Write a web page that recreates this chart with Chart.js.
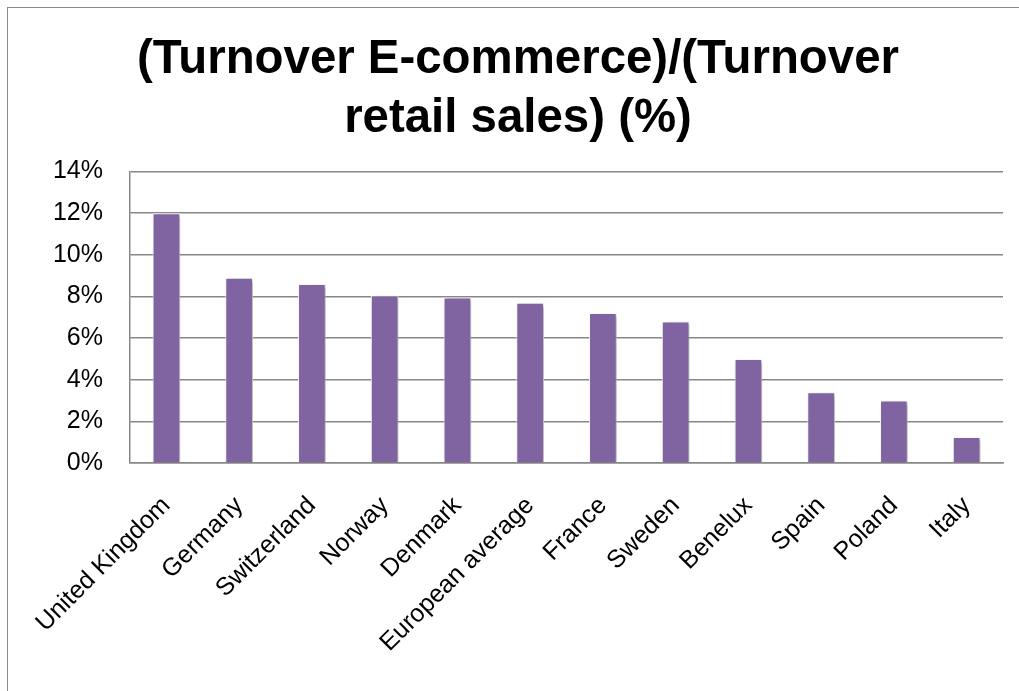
<!DOCTYPE html>
<html>
<head>
<meta charset="utf-8">
<title>E-commerce share of retail turnover</title>
<script src="https://cdn.jsdelivr.net/npm/chart.js@4/dist/chart.umd.min.js"></script>
<style>
    html, body { margin: 0; padding: 0; background: #fff; overflow: hidden; }
    #frame {
        position: absolute; left: 7px; top: 7px; width: 1040px; height: 720px;
        border-left: 1px solid #8c8c8c; border-top: 1px solid #8c8c8c;
    }
    #chart { position: absolute; left: 8px; top: 8px; }
</style>
</head>
<body>
<div id="frame"></div>
<canvas id="chart" width="1020" height="690"></canvas>
<script>
// Countries, in the order they are plotted
var countries = ['United Kingdom', 'Germany', 'Switzerland', 'Norway', 'Denmark',
    'European average', 'France', 'Sweden', 'Benelux', 'Spain', 'Poland', 'Italy'];

// E-commerce turnover as a share of retail turnover (%)
var shares = [12.0, 8.9, 8.6, 8.05, 7.95, 7.7, 7.2, 6.8, 5.0, 3.4, 3.0, 1.25];

// y axis ticks
var yMin = 0;
var yMax = 14;
var yStep = 2;

var titleLines = ['(Turnover E-commerce)/(Turnover', 'retail sales) (%)'];

var fontFamily = "'Liberation Sans', Arial, sans-serif";
var gridGray = '#878787';

// soft drop shadow behind the bars
var barShadow = {
    id: 'barShadow',
    beforeDatasetsDraw: function (chart) {
        var ctx = chart.ctx;
        ctx.save();
        ctx.shadowColor = 'rgba(0, 0, 0, 0.35)';
        ctx.shadowBlur = 4;
        ctx.shadowOffsetX = 2;
        ctx.shadowOffsetY = 2;
    },
    afterDatasetsDraw: function (chart) {
        chart.ctx.restore();
    }
};

var ctx = document.getElementById('chart').getContext('2d');
var shareChart = new Chart(ctx, {
    type: 'bar',
    data: {
        labels: countries,
        datasets: [{
            data: shares,
            backgroundColor: '#8064A2',
            borderColor: '#ffffff',
            borderWidth: 1,
            barPercentage: 0.38,
            categoryPercentage: 1
        }]
    },
    options: {
        responsive: false,
        animation: false,
        // equal side padding keeps the title centred on the canvas
        layout: { padding: { left: 25, right: 25, top: 0, bottom: 0 } },
        plugins: {
            legend: { display: false },
            tooltip: { enabled: false },
            title: {
                display: true,
                text: titleLines,
                color: '#000',
                font: { family: fontFamily, size: 47.4, weight: 'bold', lineHeight: 1.24 },
                padding: { top: 23, bottom: 23 }
            }
        },
        scales: {
            x: {
                grid: { display: false },
                border: { display: true, color: gridGray, width: 1.5 },
                ticks: {
                    color: '#000',
                    font: { family: fontFamily, size: 25 },
                    minRotation: 45,
                    maxRotation: 45,
                    autoSkip: false,
                    padding: 20
                },
                afterFit: function (scale) { scale.height = 235; }
            },
            y: {
                min: yMin,
                max: yMax,
                grid: { color: gridGray, lineWidth: 1.5, drawTicks: false },
                border: { display: true, color: gridGray, width: 1.5 },
                ticks: {
                    stepSize: yStep,
                    color: '#000',
                    font: { family: fontFamily, size: 25 },
                    padding: 27,
                    callback: function (value) { return value + '%'; }
                },
                afterFit: function (scale) { scale.width = 97; }
            }
        }
    },
    plugins: [barShadow]
});
</script>
</body>
</html>
